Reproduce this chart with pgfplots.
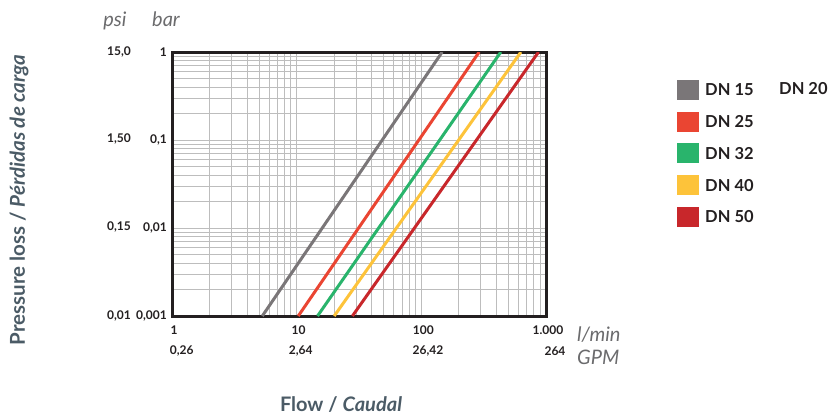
\documentclass[border=0pt]{standalone}
\usepackage{pgfplots}
\pgfplotsset{compat=1.18}
\usepackage{fontspec}
\setmainfont{Lato}
\definecolor{cgray}{HTML}{7A7678}
\definecolor{cred}{HTML}{EA4532}
\definecolor{cgreen}{HTML}{29B46C}
\definecolor{cyellow}{HTML}{FDC33A}
\definecolor{cdred}{HTML}{C8272B}
\definecolor{gridc}{HTML}{BDBDBD}
\definecolor{axisc}{HTML}{231F20}
\definecolor{titlec}{HTML}{4B5B66}
\definecolor{unitc}{HTML}{6B6B6D}
\begin{document}
\begin{tikzpicture}[x=1pt,y=1pt]
\path[use as bounding box] (0,0) rectangle (830,416);
\begin{axis}[
  at={(172pt,100pt)}, anchor=south west, scale only axis,
  width=374pt, height=264pt,
  xmode=log, ymode=log,
  xmin=1, xmax=1000, ymin=0.001, ymax=1,
  axis line style={line width=3pt, color=axisc},
  grid=both,
  major grid style={line width=1pt, color=gridc},
  minor grid style={line width=1pt, color=gridc},
  tick style={draw=none},
  xtick={1,10,100,1000},
  xticklabels={{1},{10},{100},{1.000}},
  ytick={0.001,0.01,0.1,1},
  yticklabels={{0,001},{0,01},{0,1},{1}},
  ticklabel style={font=\fontsize{12}{14}\selectfont\bfseries, text=axisc},
  yticklabel style={anchor=east, inner sep=0pt, xshift=-5pt},
  xticklabel style={anchor=center, inner sep=0pt, yshift=-14pt, xshift=2pt},
  legend style={at={(1.3503,0.8958)}, anchor=north west, draw=none, fill=none,
    inner sep=0pt, row sep=11.8pt,
    nodes={inner sep=0pt, text depth=0pt},
    font=\fontsize{16.5}{19}\selectfont\bfseries, text=axisc},
  legend cell align=left,
  /tikz/every odd column/.append style={column sep=6pt},
  legend image code/.code={\fill[#1] (0pt,-8.5pt) rectangle (19pt,8.5pt);},
]
\addplot[cgray, line width=3pt] coordinates {(5.3,0.001) (147,1)};
\addlegendentry{DN 15}
\addplot[cred, line width=3pt] coordinates {(10.3,0.001) (291,1)};
\addlegendentry{DN 25}
\addplot[cgreen, line width=3pt] coordinates {(14.7,0.001) (434,1)};
\addlegendentry{DN 32}
\addplot[cyellow, line width=3pt] coordinates {(20,0.001) (629,1)};
\addlegendentry{DN 40}
\addplot[cdred, line width=3pt] coordinates {(28,0.001) (871,1)};
\addlegendentry{DN 50}
\end{axis}
% psi column
\begin{scope}[every node/.style={font=\fontsize{12}{14}\selectfont\bfseries, text=axisc, inner sep=0pt, anchor=east}]
\node at (131,364) {15,0};
\node at (131,277) {1,50};
\node at (131,189) {0,15};
\node at (131,100) {0,01};
\end{scope}
% GPM row
\begin{scope}[every node/.style={font=\fontsize{12}{14}\selectfont\bfseries, text=axisc, inner sep=0pt, anchor=center}]
\node at (181.7,65) {0,26};
\node at (300.7,65) {2,64};
\node at (428,65) {26,42};
\node at (555,65) {264};
\end{scope}
% units
\begin{scope}[every node/.style={font=\fontsize{20}{24}\selectfont\itshape, text=unitc, inner sep=0pt}]
\node[anchor=base] at (115,389) {psi};
\node[anchor=base] at (166,389) {bar};
\node[anchor=base west] at (577,75) {l/min};
\node[anchor=base west] at (577,52) {GPM};
\end{scope}
% titles
\node[font=\fontsize{20.5}{24}\selectfont\bfseries, text=titlec, rotate=90, inner sep=0pt] at (19,216) {Pressure loss / \textit{Pérdidas de carga}};
\node[font=\fontsize{20}{24}\selectfont\bfseries, text=titlec, inner sep=0pt, anchor=base] at (341,5) {Flow / \textit{Caudal}};
\node[font=\fontsize{16.5}{19}\selectfont\bfseries, text=axisc, inner sep=0pt, text depth=0pt, anchor=west] at (779,328) {DN 20};
\end{tikzpicture}
\end{document}
